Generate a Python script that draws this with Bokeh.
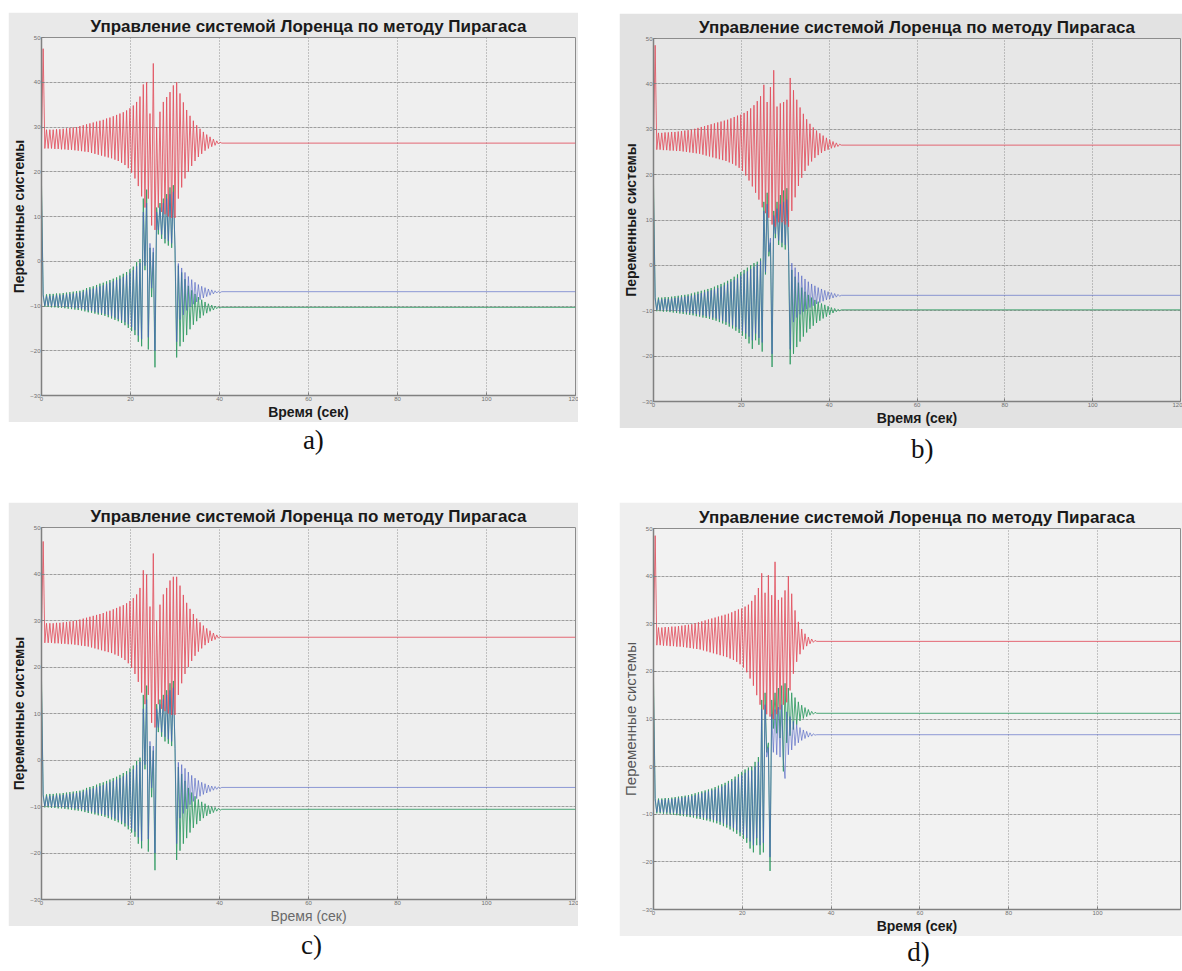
from bokeh.plotting import figure
from bokeh.models import Range1d, FixedTicker, Spacer
from bokeh.layouts import column, row
from bokeh.embed import file_html
from bokeh.resources import INLINE

TITLE = "Управление системой Лоренца по методу Пирагаса"
XLABEL = "Время (сек)"
YLABEL = "Переменные системы"
PANEL_LABELS = ["a)", "b)", "c)", "d)"]
X_TICKS = [0, 20, 40, 60, 80, 100, 120]
Y_TICKS = [-30, -20, -10, 0, 10, 20, 30, 40, 50]
T_END = 120
EXTREMA_STEP = 0.375   # seconds between successive extrema

# ---------------- panel a ----------------
z_a = [27.0, 47.5,
       25.2, 29.4, 25.2, 29.4, 25.2, 29.4, 25.1, 29.5, 25.1, 29.5,
       25.0, 29.6, 25.0, 29.7, 24.9, 29.8, 24.9, 29.9, 24.8, 30.0,
       24.7, 30.2, 24.6, 30.4, 24.5, 30.6, 24.4, 30.8, 24.2, 31.0,
       24.0, 31.2, 23.8, 31.4, 23.6, 31.6, 23.4, 31.9, 23.2, 32.1,
       23.0, 32.4, 22.7, 32.7, 22.4, 33.0, 22.0, 33.3, 21.5, 33.7,
       20.8, 34.2, 19.8, 34.8, 18.5, 35.6, 16.8, 36.8, 14.5, 39.5,
       12.0, 40.0, 14.0, 33.0, 8.0, 44.2, 7.0, 30.0, 12.0, 33.4,
       11.0, 35.6, 10.5, 36.7, 10.0, 37.8, 9.7, 39.3, 9.7, 40.0,
       14.0, 37.5, 16.5, 35.5, 18.5, 33.8, 20.0, 32.5, 21.3, 31.4,
       22.4, 30.4, 23.3, 29.6, 24.0, 28.9, 24.7, 28.3, 25.2, 27.8,
       25.6, 27.3, 25.9, 26.9, 26.2, 26.6, 26.4]
y_a = [17.0, -7.4,
       -10.2, -7.4, -10.2, -7.3, -10.3, -7.3, -10.3, -7.2, -10.4, -7.2,
       -10.4, -7.1, -10.5, -7.0, -10.6, -6.9, -10.7, -6.8, -10.8, -6.7,
       -10.9, -6.6, -11.0, -6.4, -11.2, -6.0, -11.4, -5.8, -11.5, -5.6,
       -11.7, -5.3, -11.9, -5.0, -12.0, -4.8, -12.2, -4.5, -12.5, -4.2,
       -12.8, -3.9, -13.1, -3.6, -13.4, -3.2, -13.8, -2.8, -14.3, -2.4,
       -14.9, -1.8, -15.6, -1.2, -16.5, -0.2, -18.0, 0.5, -19.0, 14.0,
       -2.0, 16.0, -19.7, 3.0, -8.0, 2.0, -23.7, 12.0, 6.0, 13.0,
       5.0, 14.0, 4.0, 15.0, 3.5, 16.5, 3.0, 17.0, 2.5, -21.5,
       -1.0, -19.0, -2.5, -18.0, -4.0, -16.5, -5.5, -15.2, -6.5, -14.2,
       -7.3, -13.4, -8.0, -12.7, -8.6, -12.1, -9.1, -11.6, -9.5, -11.2,
       -9.8, -10.9, -10.0, -10.6, -10.2, -10.4, -10.3]
x_a = [15.0, -7.8,
       -9.9, -7.8, -9.9, -7.7, -10.0, -7.7, -10.0, -7.6, -10.1, -7.6,
       -10.1, -7.5, -10.2, -7.4, -10.2, -7.3, -10.3, -7.2, -10.4, -7.1,
       -10.5, -7.0, -10.6, -6.8, -10.8, -6.5, -11.0, -6.3, -11.1, -6.1,
       -11.3, -5.8, -11.5, -5.6, -11.6, -5.4, -11.8, -5.1, -12.0, -4.8,
       -12.3, -4.5, -12.6, -4.2, -12.9, -3.9, -13.2, -3.5, -13.6, -3.1,
       -14.1, -2.6, -14.7, -2.0, -15.4, -1.1, -16.6, -0.4, -17.4, 11.0,
       -1.0, 13.0, -17.0, 4.0, -6.0, 3.0, -20.0, 11.0, 7.0, 12.0,
       6.0, 13.0, 5.0, 14.0, 4.5, 15.0, 4.0, 15.5, 3.5, -18.0,
       -0.5, -13.0, -1.5, -12.0, -2.5, -11.0, -3.4, -10.2, -4.1, -9.6,
       -4.7, -9.1, -5.2, -8.6, -5.6, -8.2, -5.9, -7.9, -6.2, -7.6,
       -6.4, -7.3, -6.6, -7.1, -6.7, -7.0, -6.8]

# ---------------- panel b ----------------
z_b = [27.0, 48.5,
       25.5, 29.2, 25.5, 29.2, 25.4, 29.3, 25.4, 29.3, 25.3, 29.4,
       25.3, 29.4, 25.2, 29.5, 25.2, 29.6, 25.1, 29.7, 25.0, 29.8,
       24.9, 29.9, 24.8, 30.1, 24.7, 30.3, 24.6, 30.5, 24.4, 30.7,
       24.2, 30.9, 24.0, 31.1, 23.8, 31.3, 23.6, 31.5, 23.4, 31.7,
       23.2, 31.9, 23.0, 32.1, 22.7, 32.4, 22.4, 32.7, 22.0, 33.0,
       21.5, 33.2, 20.8, 33.6, 19.8, 34.0, 18.7, 34.6, 17.4, 35.3,
       16.0, 36.2, 14.5, 37.3, 12.8, 39.8, 11.5, 36.0, 10.5, 39.3,
       9.0, 43.0, 8.5, 35.0, 9.5, 35.7, 9.5, 36.0, 9.0, 36.5,
       8.5, 41.3, 12.0, 38.6, 15.0, 36.5, 17.5, 34.8, 19.3, 33.4,
       20.8, 32.2, 22.0, 31.2, 22.9, 30.4, 23.7, 29.7, 24.3, 29.1,
       24.8, 28.6, 25.2, 28.1, 25.5, 27.7, 25.8, 27.3, 26.0, 27.0,
       26.2, 26.7, 26.5]
y_b = [18.0, -7.1,
       -10.1, -7.1, -10.1, -7.1, -10.2, -7.0, -10.2, -7.0, -10.3, -6.9,
       -10.4, -6.8, -10.5, -6.7, -10.6, -6.6, -10.7, -6.5, -10.8, -6.4,
       -10.9, -6.2, -11.0, -6.0, -11.2, -5.8, -11.3, -5.6, -11.5, -5.4,
       -11.6, -5.2, -11.8, -5.0, -12.0, -4.7, -12.2, -4.4, -12.5, -4.1,
       -12.8, -3.8, -13.1, -3.4, -13.5, -3.0, -13.9, -2.5, -14.4, -2.0,
       -14.9, -1.5, -15.5, -1.0, -16.2, -0.5, -17.2, 0.0, -18.4, 0.5,
       -16.5, 0.8, -17.5, 1.5, -19.0, 14.0, -2.0, 16.0, 2.0, 5.0,
       -22.4, 12.0, 6.0, 14.0, 4.5, 15.5, 4.0, 16.5, 3.5, 17.0,
       3.0, -21.8, -1.0, -19.5, -2.5, -18.0, -3.8, -16.8, -4.9, -15.7,
       -5.8, -14.8, -6.5, -14.0, -7.1, -13.3, -7.6, -12.7, -8.0, -12.2,
       -8.4, -11.7, -8.7, -11.3, -9.0, -10.9, -9.3, -10.5, -9.5, -10.2,
       -9.7, -10.0, -9.8]
x_b = [15.0, -7.5,
       -9.8, -7.5, -9.8, -7.5, -9.9, -7.4, -9.9, -7.4, -10.0, -7.3,
       -10.0, -7.2, -10.1, -7.1, -10.2, -7.0, -10.3, -6.9, -10.4, -6.8,
       -10.5, -6.7, -10.6, -6.5, -10.7, -6.3, -10.9, -6.1, -11.0, -5.9,
       -11.2, -5.7, -11.3, -5.5, -11.5, -5.3, -11.7, -5.0, -11.9, -4.7,
       -12.2, -4.4, -12.5, -4.0, -12.8, -3.6, -13.2, -3.2, -13.6, -2.8,
       -14.0, -2.3, -14.5, -1.8, -15.0, -1.3, -15.7, -0.8, -16.5, -0.3,
       -15.0, 0.2, -16.0, 1.0, -17.0, 12.0, -1.5, 13.5, 3.0, 6.0,
       -19.5, 11.0, 7.0, 12.5, 5.5, 13.5, 5.0, 14.0, 4.5, 14.5,
       4.0, -18.5, 0.5, -12.5, -0.5, -11.5, -1.5, -10.8, -2.3, -10.2,
       -3.0, -9.7, -3.6, -9.3, -4.1, -8.9, -4.5, -8.5, -4.9, -8.2,
       -5.2, -7.9, -5.5, -7.6, -5.8, -7.4, -6.0, -7.2, -6.2, -7.0,
       -6.4, -6.8, -6.6]

# ---------------- panel c ----------------
z_c = [27.0, 47.0,
       25.2, 29.4, 25.2, 29.4, 25.2, 29.4, 25.1, 29.5, 25.1, 29.5,
       25.0, 29.6, 25.0, 29.7, 24.9, 29.8, 24.9, 29.9, 24.8, 30.0,
       24.7, 30.2, 24.6, 30.4, 24.5, 30.6, 24.4, 30.8, 24.2, 31.0,
       24.0, 31.2, 23.8, 31.4, 23.6, 31.6, 23.4, 31.9, 23.2, 32.1,
       23.0, 32.4, 22.7, 32.7, 22.4, 33.0, 22.0, 33.3, 21.5, 33.7,
       20.8, 34.2, 19.8, 34.8, 18.5, 35.6, 16.8, 37.0, 14.5, 40.8,
       12.0, 39.9, 14.0, 33.0, 8.0, 44.4, 7.0, 30.0, 12.0, 33.4,
       11.0, 35.6, 10.5, 37.0, 10.0, 38.6, 9.7, 39.4, 9.7, 39.4,
       14.0, 37.5, 16.5, 35.5, 18.5, 33.8, 20.0, 32.5, 21.3, 31.4,
       22.4, 30.4, 23.3, 29.6, 24.0, 28.9, 24.7, 28.3, 25.2, 27.8,
       25.6, 27.3, 25.9, 26.9, 26.2, 26.6, 26.4]
y_c = [17.0, -7.4,
       -10.2, -7.4, -10.2, -7.3, -10.3, -7.3, -10.3, -7.2, -10.4, -7.2,
       -10.4, -7.1, -10.5, -7.0, -10.6, -6.9, -10.7, -6.8, -10.8, -6.7,
       -10.9, -6.6, -11.0, -6.4, -11.2, -6.0, -11.4, -5.8, -11.5, -5.6,
       -11.7, -5.3, -11.9, -5.0, -12.0, -4.8, -12.2, -4.5, -12.5, -4.2,
       -12.8, -3.9, -13.1, -3.6, -13.4, -3.2, -13.8, -2.8, -14.3, -2.4,
       -14.9, -1.8, -15.6, -1.2, -16.5, -0.2, -18.0, 0.5, -19.0, 14.0,
       -2.0, 16.0, -19.7, 3.0, -8.0, 2.0, -23.7, 12.0, 6.0, 13.0,
       5.0, 14.0, 4.0, 15.0, 3.5, 16.5, 3.0, 17.0, 2.5, -21.5,
       -1.5, -19.5, -3.0, -18.0, -4.5, -16.8, -6.0, -15.6, -7.0, -14.6,
       -7.8, -13.8, -8.5, -13.1, -9.0, -12.5, -9.4, -12.0, -9.8, -11.6,
       -10.0, -11.3, -10.2, -11.0, -10.4, -10.8, -10.6]
x_c = [15.0, -7.8,
       -9.9, -7.8, -9.9, -7.7, -10.0, -7.7, -10.0, -7.6, -10.1, -7.6,
       -10.1, -7.5, -10.2, -7.4, -10.2, -7.3, -10.3, -7.2, -10.4, -7.1,
       -10.5, -7.0, -10.6, -6.8, -10.8, -6.5, -11.0, -6.3, -11.1, -6.1,
       -11.3, -5.8, -11.5, -5.6, -11.6, -5.4, -11.8, -5.1, -12.0, -4.8,
       -12.3, -4.5, -12.6, -4.2, -12.9, -3.9, -13.2, -3.5, -13.6, -3.1,
       -14.1, -2.6, -14.7, -2.0, -15.4, -1.1, -16.6, -0.4, -17.4, 11.0,
       -1.0, 13.0, -17.0, 4.0, -6.0, 3.0, -20.0, 11.0, 7.0, 12.0,
       6.0, 13.0, 5.0, 14.0, 4.5, 15.0, 4.0, 15.5, 3.5, -18.0,
       -0.5, -12.5, -1.0, -11.5, -1.8, -10.5, -2.6, -9.6, -3.3, -8.9,
       -3.9, -8.3, -4.4, -7.8, -4.8, -7.4, -5.1, -7.1, -5.4, -6.8,
       -5.6, -6.5, -5.7, -6.3, -5.8, -6.1, -5.9]

# ---------------- panel d ----------------
z_d = [27.0, 48.5,
       25.5, 29.2, 25.5, 29.2, 25.4, 29.3, 25.4, 29.3, 25.3, 29.4,
       25.3, 29.4, 25.2, 29.5, 25.2, 29.6, 25.1, 29.7, 25.0, 29.8,
       24.9, 29.9, 24.8, 30.1, 24.7, 30.3, 24.6, 30.5, 24.4, 30.7,
       24.2, 30.9, 24.0, 31.1, 23.8, 31.3, 23.6, 31.5, 23.4, 31.7,
       23.2, 31.9, 23.0, 32.1, 22.7, 32.4, 22.4, 32.7, 22.0, 33.0,
       21.5, 33.2, 20.8, 33.6, 19.8, 34.0, 18.5, 34.8, 17.0, 36.0,
       15.0, 37.5, 13.0, 40.6, 12.0, 36.5, 11.0, 40.2, 10.5, 36.0,
       10.0, 43.0, 11.0, 35.0, 12.0, 35.5, 13.0, 37.0, 13.5, 40.0,
       16.0, 36.3, 19.5, 32.8, 22.0, 30.4, 23.6, 28.9, 24.6, 27.9,
       25.3, 27.2, 25.8, 26.8, 26.1, 26.5, 26.3]
y_d = [18.0, -6.7,
       -9.8, -6.7, -9.8, -6.7, -9.9, -6.6, -9.9, -6.6, -10.0, -6.5,
       -10.1, -6.4, -10.2, -6.3, -10.3, -6.2, -10.4, -6.1, -10.5, -6.0,
       -10.6, -5.8, -10.7, -5.6, -10.9, -5.4, -11.0, -5.2, -11.2, -5.0,
       -11.3, -4.8, -11.5, -4.6, -11.7, -4.3, -11.9, -4.0, -12.2, -3.7,
       -12.5, -3.4, -12.8, -3.0, -13.2, -2.6, -13.6, -2.1, -14.1, -1.6,
       -14.6, -1.1, -15.2, -0.6, -16.0, -0.2, -17.2, 0.0, -18.0, 1.0,
       -16.5, 2.0, -18.5, 14.0, -18.0, 15.5, 3.0, 5.0, -21.9, 14.0,
       8.0, 15.5, 7.0, 16.5, 6.0, 17.0, -1.0, 17.5, 5.0, 16.5,
       6.5, 15.5, 7.8, 14.5, 8.8, 13.6, 9.6, 12.9, 10.1, 12.4,
       10.5, 12.0, 10.8, 11.6, 11.0, 11.4, 11.2]
x_d = [15.0, -7.0,
       -9.5, -7.0, -9.5, -7.0, -9.6, -6.9, -9.6, -6.9, -9.7, -6.8,
       -9.7, -6.7, -9.8, -6.6, -9.9, -6.5, -10.0, -6.4, -10.1, -6.3,
       -10.2, -6.2, -10.3, -6.0, -10.4, -5.8, -10.6, -5.6, -10.7, -5.4,
       -10.9, -5.2, -11.0, -5.0, -11.2, -4.8, -11.4, -4.5, -11.6, -4.2,
       -11.9, -3.9, -12.2, -3.5, -12.5, -3.1, -12.9, -2.7, -13.3, -2.2,
       -13.8, -1.8, -14.3, -1.3, -15.0, -0.8, -15.7, -0.8, -16.5, 0.0,
       -15.0, 1.0, -16.5, 12.0, -16.0, 13.0, 2.0, 4.0, -19.0, 11.0,
       3.0, 12.0, 2.5, 12.5, 2.0, 13.0, 1.5, -2.5, 11.5, 2.5,
       10.5, 3.5, 9.5, 4.4, 8.8, 5.0, 8.2, 5.5, 7.7, 5.9,
       7.4, 6.2, 7.1, 6.4, 6.9, 6.6, 6.7]

BLUE = "#4a5ec2"
GREEN = "#2f9a62"
RED = "#e2505e"


def trace(vals):
    t = [k * EXTREMA_STEP for k in range(len(vals))] + [T_END]
    v = list(vals) + [vals[-1]]
    return t, v


def panel(xs, ys, zs, w, h, bl, br, bt, bb, x_end, outer, inner,
          xlab_style, ylab_style, xlab_color, ylab_color, xlab_size, ylab_size):
    p = figure(width=w, height=h, x_range=Range1d(0, x_end), y_range=Range1d(-30, 50),
               output_backend="svg", toolbar_location=None,
               min_border_left=bl, min_border_right=br, min_border_top=bt, min_border_bottom=bb,
               background_fill_color=inner, border_fill_color=outer,
               outline_line_color="#8c8c8c", outline_line_width=1)
    p.title.text = TITLE
    p.title.align = "center"
    p.title.text_font = "'Liberation Sans', Arial, sans-serif"
    p.title.text_font_size = "17px"
    p.title.text_font_style = "bold"
    p.title.text_color = "#1a1a1a"
    p.title.standoff = 4
    for ax in (p.xaxis[0], p.yaxis[0]):
        ax.axis_line_color = "#808080"
        ax.axis_line_width = 1.5
        ax.major_tick_in = 3
        ax.major_tick_out = 0
        ax.minor_tick_line_color = None
        ax.major_tick_line_color = "#808080"
        ax.major_label_text_font_size = "6px"
        ax.major_label_text_color = "#707070"
        ax.major_label_standoff = 1
        ax.axis_label_text_font = "'Liberation Sans', Arial, sans-serif"
        ax.axis_label_standoff = 0
    p.xaxis.ticker = FixedTicker(ticks=X_TICKS)
    p.yaxis.ticker = FixedTicker(ticks=Y_TICKS)
    p.xaxis.axis_label = XLABEL
    p.yaxis.axis_label = YLABEL
    p.xaxis.axis_label_text_font_style = xlab_style
    p.yaxis.axis_label_text_font_style = ylab_style
    p.xaxis.axis_label_text_color = xlab_color
    p.yaxis.axis_label_text_color = ylab_color
    p.xaxis.axis_label_text_font_size = xlab_size
    p.yaxis.axis_label_text_font_size = ylab_size
    p.xgrid.grid_line_color = "#7a7a7a"
    p.xgrid.grid_line_dash = "1 2"
    p.xgrid.grid_line_alpha = 0.8
    p.ygrid.grid_line_color = "#8a8a8a"
    p.ygrid.grid_line_dash = "3 1"
    p.ygrid.grid_line_alpha = 0.8
    p.xgrid.ticker = FixedTicker(ticks=X_TICKS)
    p.ygrid.ticker = FixedTicker(ticks=Y_TICKS)
    for vals, col, a in ((ys, GREEN, 0.85), (xs, BLUE, 0.6), (zs, RED, 0.85)):
        t, v = trace(vals)
        p.line(t, v, line_color=col, line_width=1, line_alpha=a)
    return p


def label_box(w, h, text, left_x, cy_from_top):
    q = figure(width=w, height=h, x_range=Range1d(0, w), y_range=Range1d(0, h),
               output_backend="svg", toolbar_location=None,
               x_axis_location=None, y_axis_location=None,
               min_border_left=0, min_border_right=0, min_border_top=0, min_border_bottom=0,
               outline_line_color=None,
               background_fill_color="white", border_fill_color="white")
    q.grid.visible = False
    q.text(x=[left_x], y=[h - cy_from_top], text=[text], text_align="left",
           text_baseline="middle",
           text_font="'Liberation Serif', 'Times New Roman', serif",
           text_font_size="27px", text_color="#111111")
    return q


pa = panel(x_a, y_a, z_a, 570, 410, 27, 3, 23, 25, 120, "#e9e9e9", "#efefef",
           "bold", "bold", "#1a1a1a", "#1a1a1a", "14px", "14px")
pb = panel(x_b, y_b, z_b, 563, 415, 24, 2, 23, 25, 120, "#e2e2e2", "#e7e7e7",
           "bold", "bold", "#1a1a1a", "#1a1a1a", "14px", "14px")
pc = panel(x_c, y_c, z_c, 570, 424, 27, 3, 25, 26, 120, "#e9e9e9", "#efefef",
           "normal", "bold", "#6a6a6a", "#1a1a1a", "14px", "14px")
pd = panel(x_d, y_d, z_d, 563, 434, 29, 0, 26, 24, 118.7, "#efefef", "#f2f2f2",
           "bold", "normal", "#1a1a1a", "#555555", "14px", "15px")

la = label_box(570, 80, PANEL_LABELS[0], 279, 17)
lb = label_box(563, 74, PANEL_LABELS[1], 275, 20)
lc = label_box(570, 40, PANEL_LABELS[2], 277, 18)
ld = label_box(563, 31, PANEL_LABELS[3], 271, 15)

left = column(Spacer(width=570, height=12), pa, la, pc, lc)
right = column(Spacer(width=563, height=13), pb, lb, pd, ld)
layout = row(Spacer(width=8, height=10), left, Spacer(width=41, height=10), right)

open("out.html", "w").write(file_html(layout, INLINE))
